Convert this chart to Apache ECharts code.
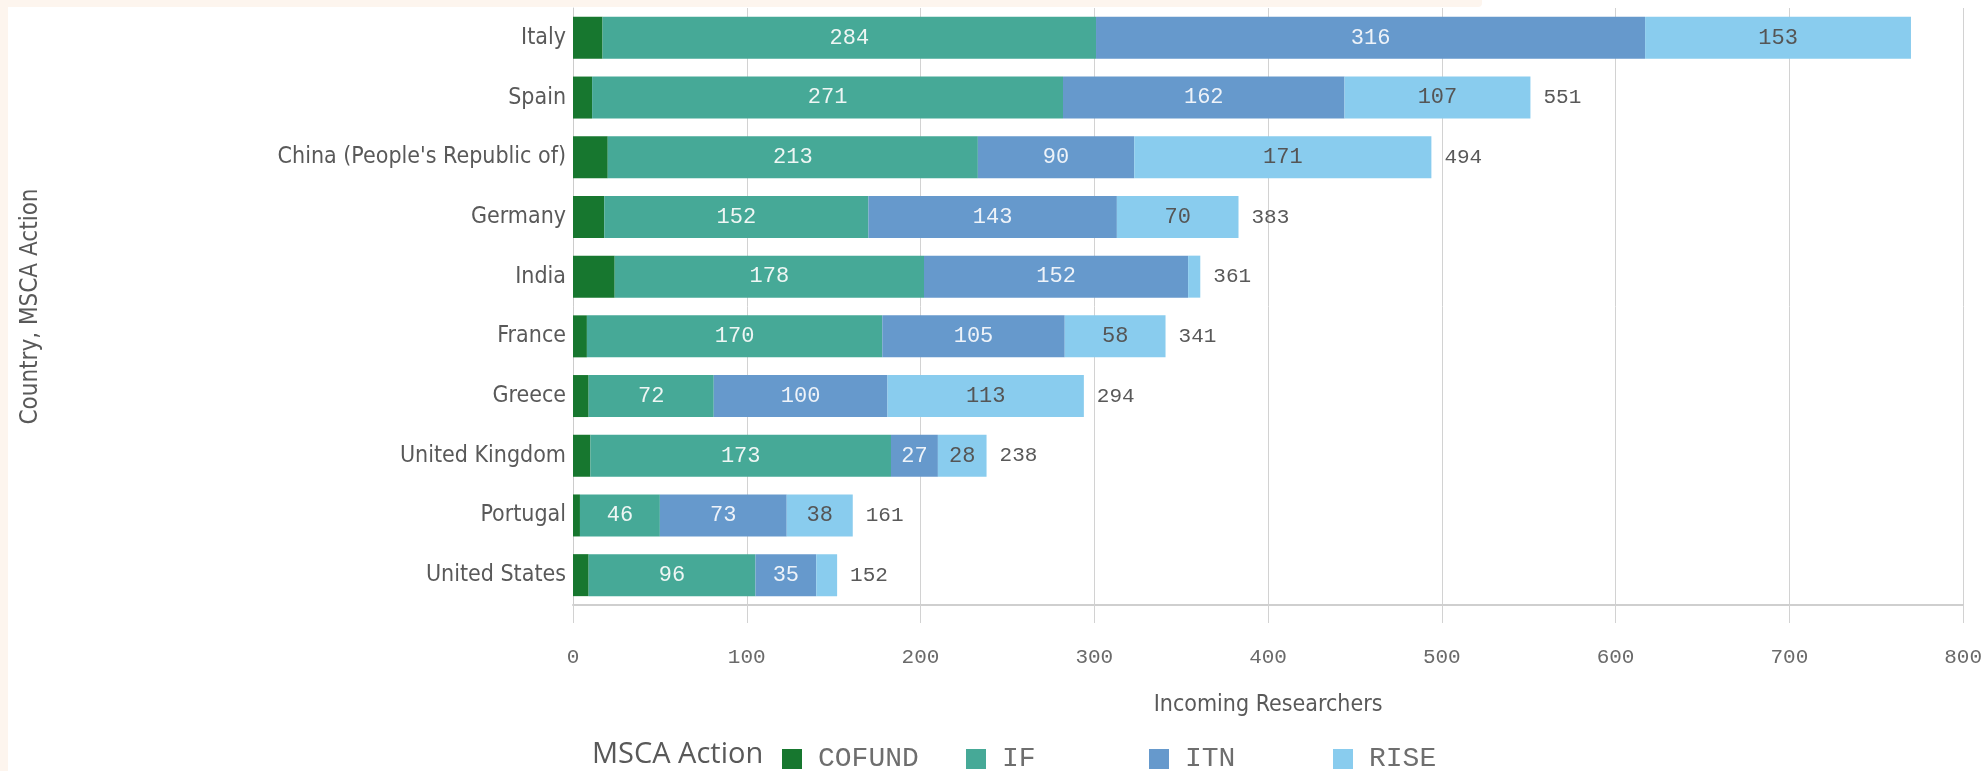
<!DOCTYPE html>
<html>
<head>
<meta charset="utf-8">
<script src="https://cdn.jsdelivr.net/npm/echarts@6/dist/echarts.min.js"></script>
<style>
html,body{margin:0;padding:0;background:#ffffff;}
#wrap{position:relative;width:1985px;height:771px;overflow:hidden;background:#ffffff;}
#topStrip{position:absolute;left:0;top:0;width:1482px;height:7px;background:#fdf5ee;border-bottom-right-radius:4px;}
#leftStrip{position:absolute;left:0;top:0;width:8px;height:771px;background:#fdf5ee;}
#chart{position:absolute;left:0;top:0;width:1985px;height:771px;}
</style>
</head>
<body>
<div id="wrap">
  <div id="topStrip"></div>
  <div id="leftStrip"></div>
  <div id="chart"></div>
</div>
<script>
// ---- data ----
const categories = ['Italy', 'Spain', "China (People's Republic of)", 'Germany', 'India', 'France', 'Greece', 'United Kingdom', 'Portugal', 'United States'];
const seriesNames = ['COFUND', 'IF', 'ITN', 'RISE'];
const cofundValues = [17, 11, 20, 18, 24, 8, 9, 10, 4, 9];
const ifValues = [284, 271, 213, 152, 178, 170, 72, 173, 46, 96];
const itnValues = [316, 162, 90, 143, 152, 105, 100, 27, 73, 35];
const riseValues = [153, 107, 171, 70, 7, 58, 113, 28, 38, 12];
const totalLabelShown = [false, true, true, true, true, true, true, true, true, true];
const xAxisTicks = [0, 100, 200, 300, 400, 500, 600, 700, 800];
const xAxisTitle = 'Incoming Researchers';
const yAxisTitle = 'Country, MSCA Action';
const legendTitle = 'MSCA Action';

// ---- styling ----
const colors = {COFUND: '#17772f', IF: '#46a997', ITN: '#6699cc', RISE: '#89ccee'};
const labelColors = {COFUND: '#ffffff', IF: '#eef6f4', ITN: '#eef3f9', RISE: '#555555'};
const sansCond = '"DejaVu Sans Condensed", "Liberation Sans Narrow", "DejaVu Sans", sans-serif';
const mono = '"Liberation Mono", "DejaVu Sans Mono", monospace';

const valuesByName = {COFUND: cofundValues, IF: ifValues, ITN: itnValues, RISE: riseValues};
const totals = categories.map((c, i) => seriesNames.reduce((s, n) => s + valuesByName[n][i], 0));

const chart = echarts.init(document.getElementById('chart'), null, {renderer: 'canvas'});

const stackSeries = seriesNames.map(name => ({
  name: name,
  type: 'bar',
  stack: 'total',
  barWidth: 42,
  yAxisIndex: 0,
  itemStyle: {color: colors[name]},
  label: {
    show: name !== 'COFUND',
    position: 'inside',
    color: labelColors[name],
    fontFamily: mono,
    fontSize: 22,
    formatter: p => (p.value >= 20 ? String(p.value) : '')
  },
  emphasis: {disabled: true},
  data: valuesByName[name]
}));

const totalSeries = {
  name: 'Total',
  type: 'bar',
  yAxisIndex: 1,
  barWidth: 42,
  itemStyle: {color: 'rgba(0,0,0,0)'},
  label: {
    show: true,
    position: 'right',
    distance: 13,
    color: '#595959',
    fontFamily: mono,
    fontSize: 21
  },
  emphasis: {disabled: true},
  silent: true,
  z: 1,
  data: totals.map((t, i) => ({value: t, label: {show: totalLabelShown[i]}}))
};

const legendLefts = [782, 966, 1149, 1333];
const legends = seriesNames.map((name, i) => ({
  data: [name],
  left: legendLefts[i],
  top: 745,
  orient: 'horizontal',
  icon: 'rect',
  itemWidth: 20,
  itemHeight: 20,
  padding: 0,
  selectedMode: false,
  textStyle: {
    fontFamily: mono,
    fontSize: 28,
    color: '#6e6e6e',
    padding: [0, 0, 0, 11]
  }
}));

const option = {
  animation: false,
  backgroundColor: 'transparent',
  grid: {left: 573, right: 15.5, top: 8, bottom: 166, containLabel: false},
  xAxis: {
    type: 'value',
    min: xAxisTicks[0],
    max: xAxisTicks[xAxisTicks.length - 1],
    interval: xAxisTicks[1] - xAxisTicks[0],
    name: xAxisTitle,
    nameLocation: 'middle',
    nameGap: 89,
    nameTextStyle: {fontFamily: sansCond, fontSize: 23, color: '#595959'},
    axisLine: {show: true, lineStyle: {color: '#cfcfcf', width: 2}},
    axisTick: {show: true, length: 18, lineStyle: {color: '#d2d2d2', width: 1}},
    axisLabel: {fontFamily: mono, fontSize: 21, color: '#6a6a6a', margin: 42},
    splitLine: {show: true, lineStyle: {color: '#d2d2d2', width: 1}}
  },
  yAxis: [
    {
      type: 'category',
      data: categories,
      inverse: true,
      name: yAxisTitle,
      nameLocation: 'middle',
      nameGap: 530,
      nameRotate: 90,
      nameTextStyle: {fontFamily: sansCond, fontSize: 24, color: '#595959'},
      axisLine: {show: true, lineStyle: {color: '#cccccc', width: 1}},
      axisTick: {show: false},
      axisLabel: {fontFamily: sansCond, fontSize: 23, color: '#595959', margin: 7},
      splitLine: {show: false}
    },
    {
      type: 'category',
      data: categories,
      inverse: true,
      show: false
    }
  ],
  legend: legends,
  graphic: [{
    type: 'text',
    left: 592,
    top: 740,
    style: {
      text: legendTitle,
      fontFamily: '"Open Sans", "DejaVu Sans", sans-serif',
      fontSize: 29,
      fill: '#595959'
    }
  }],
  series: stackSeries.concat([totalSeries])
};

chart.setOption(option);
</script>
</body>
</html>
